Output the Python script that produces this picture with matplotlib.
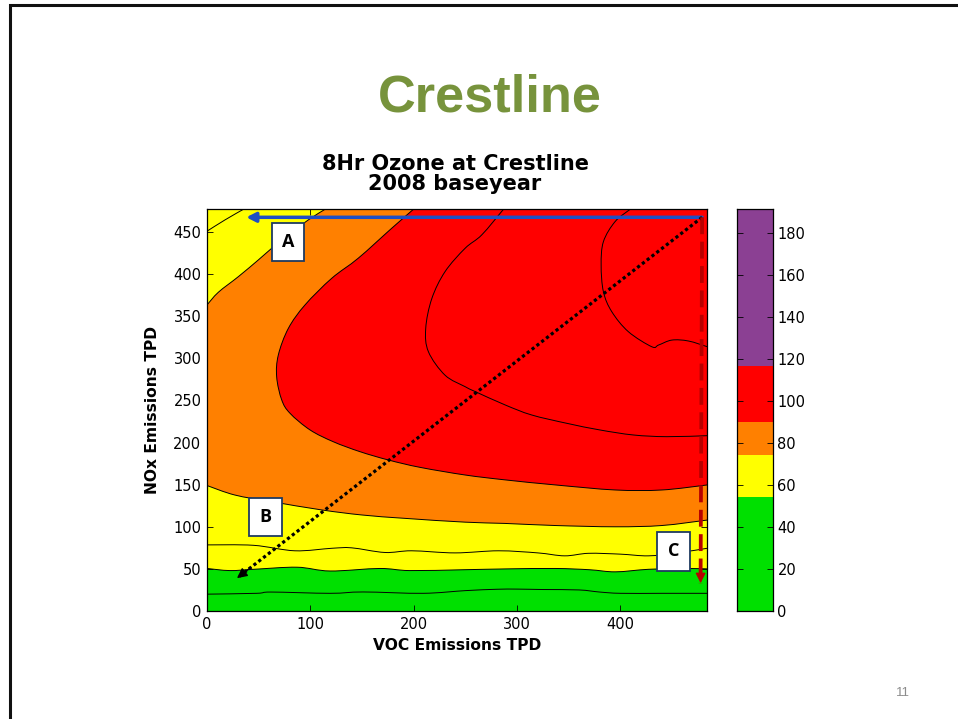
import numpy as np
import matplotlib
matplotlib.use('Agg')
import matplotlib.pyplot as plt
from matplotlib.patches import Rectangle, PathPatch
from matplotlib.path import Path

# ---------------- data ----------------
x_max = 484
y_max = 477
x_ticks = [0, 100, 200, 300, 400]
y_ticks = [0, 50, 100, 150, 200, 250, 300, 350, 400, 450]
cbar_ticks = [0, 20, 40, 60, 80, 100, 120, 140, 160, 180]

# colour bands of the colour bar (ozone, ppb)
band_bounds = [0, 54.5, 74.5, 90, 117, 191.5]
band_colors = ['#00e000', '#ffff00', '#ff8000', '#ff0000', '#8b4093']

# isopleths (VOC TPD, NOx TPD)
iso1_x = [0, 48, 62, 119, 151, 209, 250, 280, 300, 325, 360, 380, 400, 440, 484]
iso1_y = [20, 21, 22.5, 21, 22.6, 21, 24.2, 25.8, 26, 25.5, 25, 22.5, 21, 21, 21]

iso2_x = [0, 22, 45, 87, 119, 167, 196, 248, 290, 337, 370, 395, 427, 460, 484]
iso2_y = [50.5, 48, 49.5, 52, 47.5, 50.5, 48, 49, 50, 50.5, 49, 46.5, 49.5, 50.5, 50]

iso3_x = [0, 45, 85, 121, 140, 172, 198, 240, 282, 320, 346, 369, 400, 427, 455, 484]
iso3_y = [78.5, 78, 71.5, 74.5, 75, 69.5, 71.5, 69, 71.5, 69, 65.5, 68.5, 67.5, 65.5, 69, 74.5]
iso3_top_x = [0, 17.4, 35.2]
iso3_top_y = [451, 464.4, 477]

iso4_x = [0, 27, 62.6, 111, 150, 191.6, 249.7, 288, 337, 395, 440, 484]
iso4_y = [149, 137.7, 129.8, 120, 114, 110, 105.5, 104, 101.5, 100, 101.5, 108]
iso4_top_x = [0, 11, 30.3, 49.6, 62.6, 78.7, 98, 114.2]
iso4_top_y = [363.4, 378.5, 397, 416.8, 430.7, 446.6, 464.4, 477]

iso5_x = [199.7, 178.7, 146.4, 120.6, 94.8, 78.7, 69, 67.4, 72.3, 80.3, 99.7, 122.2,
          148, 175.5, 206, 249.7, 288.4, 337, 395, 440, 484]
iso5_y = [477, 454.5, 419, 395, 363.4, 335.6, 304, 278, 250.6, 234.8, 215, 201,
          189.2, 179.3, 170.6, 161.5, 155.7, 149.7, 143.7, 143.7, 149.7]

iso6_x = [286.8, 265.8, 249.7, 230.3, 217.5, 211.6, 214.2, 230.3, 249.7, 259.4,
          288.4, 314, 348, 380, 412.6, 444.8, 484]
iso6_y = [477, 446.6, 430.7, 403, 371, 335.6, 307.9, 280, 266.4, 260.6,
          244.7, 232.8, 222.9, 215, 209, 207, 208.2]

iso7_x = [409.4, 394.8, 383.5, 381.3, 383.5, 391.6, 407.7, 430.3, 436.8, 449.7, 465.8, 484]
iso7_y = [477, 462.4, 438.6, 410.8, 379.1, 355.4, 331.6, 313.8, 315.8, 321.7, 320.6, 313.8]

# scenario arrows (start point and end points)
arrow_start = (479, 467.5)
arrow_a_end = (38, 467.5)     # VOC only (blue)
arrow_b_end = (29, 39)        # VOC + NOx (black dotted)
arrow_c_end = (477.5, 33)     # NOx only (red dashed)

# labels A, B, C : (x0, y0, x1, y1) of their boxes
label_names = ['A', 'B', 'C']
label_boxes = [(63.2, 415.7, 94.2, 461.2), (41, 89.4, 72.3, 134.6), (435.8, 47.9, 467.4, 93.5)]


# ---------------- helpers ----------------
def smooth_piece(xs, ys):
    """Cubic Bezier segments (Catmull-Rom style) passing through the read points."""
    p = np.column_stack([xs, ys]).astype(float)
    n = len(p)
    verts, codes = [], []
    for i in range(n - 1):
        p0 = p[i - 1] if i > 0 else p[i]
        p1, p2 = p[i], p[i + 1]
        p3 = p[i + 2] if i + 2 < n else p[i + 1]
        verts += [p1 + (p2 - p0) / 6.0, p2 - (p3 - p1) / 6.0, p2]
        codes += [Path.CURVE4] * 3
    return p[0], verts, codes


def build_path(pieces, closed=False):
    verts, codes = [], []
    for kind, xs, ys in pieces:
        if kind == 'smooth':
            start, v, c = smooth_piece(xs, ys)
        else:
            start = np.array([xs[0], ys[0]], float)
            v = [np.array([x, y], float) for x, y in zip(xs[1:], ys[1:])]
            c = [Path.LINETO] * len(v)
        verts.append(start)
        codes.append(Path.MOVETO if not codes else Path.LINETO)
        verts += v
        codes += c
    if closed:
        verts.append(verts[0])
        codes.append(Path.CLOSEPOLY)
    return Path(np.array(verts), codes)


# ---------------- figure ----------------
plt.rcParams['font.family'] = ['DejaVu Sans']
W, H = 958, 719
fig = plt.figure(figsize=(W / 100, H / 100), dpi=100)


def fx(px):
    return px / W


def fy(py):
    return 1 - py / H


# slide border (top and left edges visible)
fig.patches.append(Rectangle((fx(10), -0.2), 1.3, fy(5) + 0.2, transform=fig.transFigure,
                             fill=False, edgecolor='#111111', linewidth=2.2, clip_on=False))

fig.text(fx(489.5), fy(111), 'Crestline', ha='center', va='baseline',
         fontsize=37.7, fontweight='bold', color='#77933c', family=['Liberation Sans', 'DejaVu Sans'])
fig.text(fx(455), fy(170), '8Hr Ozone at Crestline', ha='center', va='baseline',
         fontsize=15, fontweight='bold', color='black')
fig.text(fx(455), fy(190.5), '2008 baseyear', ha='center', va='baseline',
         fontsize=15, fontweight='bold', color='black')
fig.text(fx(903), fy(696), '11', ha='center', va='baseline', fontsize=9.5,
         color='#8c8c8c', family=['Liberation Sans', 'DejaVu Sans'])

ax = fig.add_axes([fx(207), fy(611), fx(707.3) - fx(207), fy(209.3) - fy(611)])
ax.set_xlim(0, x_max)
ax.set_ylim(0, y_max)
ax.set_facecolor(band_colors[0])

# filled regions
yellow_path = build_path([('smooth', iso2_x, iso2_y),
                          ('line', [x_max, 0], [y_max, y_max])], closed=True)
orange_path = build_path([('smooth', iso4_x, iso4_y),
                          ('line', [x_max], [y_max]),
                          ('smooth', iso4_top_x[::-1], iso4_top_y[::-1])], closed=True)
red_path = build_path([('smooth', iso5_x, iso5_y),
                       ('line', [x_max], [y_max])], closed=True)
for pth, col, z in [(yellow_path, band_colors[1], 1), (orange_path, band_colors[2], 2),
                    (red_path, band_colors[3], 3)]:
    ax.add_patch(PathPatch(pth, facecolor=col, edgecolor='none', lw=0, zorder=z))

for xs, ys in [(iso1_x, iso1_y), (iso2_x, iso2_y), (iso3_x, iso3_y), (iso3_top_x, iso3_top_y),
               (iso4_x, iso4_y), (iso4_top_x, iso4_top_y), (iso5_x, iso5_y),
               (iso6_x, iso6_y), (iso7_x, iso7_y)]:
    ax.add_patch(PathPatch(build_path([('smooth', xs, ys)]), facecolor='none',
                           edgecolor='black', lw=0.7, zorder=4))

# arrows
ax.annotate('', xy=arrow_a_end, xytext=arrow_start, zorder=6,
            arrowprops=dict(arrowstyle='-|>,head_length=0.55,head_width=0.28', color='#1f4fc4',
                            lw=2.5, shrinkA=0, shrinkB=0))


def dashed_arrow(end, color, dashes, lw):
    sx, sy = arrow_start
    ex, ey = end
    ax.plot([sx, ex], [sy, ey], color=color, lw=lw, dashes=dashes, zorder=6,
            dash_capstyle='butt')
    tx = ex + 0.03 * (sx - ex)
    ty = ey + 0.03 * (sy - ey)
    ax.annotate('', xy=end, xytext=(tx, ty), zorder=7,
                arrowprops=dict(arrowstyle='-|>,head_length=0.6,head_width=0.3', color=color,
                                lw=1.0, shrinkA=0, shrinkB=0))


dashed_arrow(arrow_b_end, 'black', (1, 0.9), 2.3)
dashed_arrow(arrow_c_end, '#b80000', (4.5, 2.0), 2.7)

for name, (x0, y0, x1, y1) in zip(label_names, label_boxes):
    ax.add_patch(Rectangle((x0, y0), x1 - x0, y1 - y0, facecolor='white',
                           edgecolor='#1f3a60', lw=1.3, zorder=8))
    ax.text((x0 + x1) / 2, (y0 + y1) / 2, name, ha='center', va='center', zorder=9,
            fontsize=13, fontweight='bold', family=['Open Sans', 'DejaVu Sans'])

ax.set_xticks(x_ticks)
ax.set_yticks(y_ticks)
ax.tick_params(direction='in', top=True, right=True, length=4, width=0.6,
               labelsize=10.5, pad=4)
for s in ax.spines.values():
    s.set_linewidth(0.9)
    s.set_zorder(10)
ax.set_xlabel('VOC Emissions TPD', fontsize=11.2, fontweight='bold')
ax.set_ylabel('NOx Emissions TPD', fontsize=11.2, fontweight='bold')
ax.xaxis.set_label_coords(0.5, -0.068)
ax.yaxis.set_label_coords(-0.094, 0.5)

# colour bar
cax = fig.add_axes([fx(736.7), fy(611), fx(773.3) - fx(736.7), fy(209.3) - fy(611)])
heights = np.diff(band_bounds)
cax.bar([0] * len(band_colors), heights, bottom=band_bounds[:-1], width=1.0,
        color=band_colors, lw=0)
cax.set_xlim(-0.5, 0.5)
cax.set_ylim(band_bounds[0], band_bounds[-1])
cax.set_xticks([])
cax.set_yticks(cbar_ticks)
cax.yaxis.tick_right()
cax.tick_params(axis='y', direction='in', left=True, right=True, length=4, width=0.6,
                labelsize=10.5, pad=3)
for s in cax.spines.values():
    s.set_linewidth(0.9)

fig.savefig('out.png', dpi=100)
